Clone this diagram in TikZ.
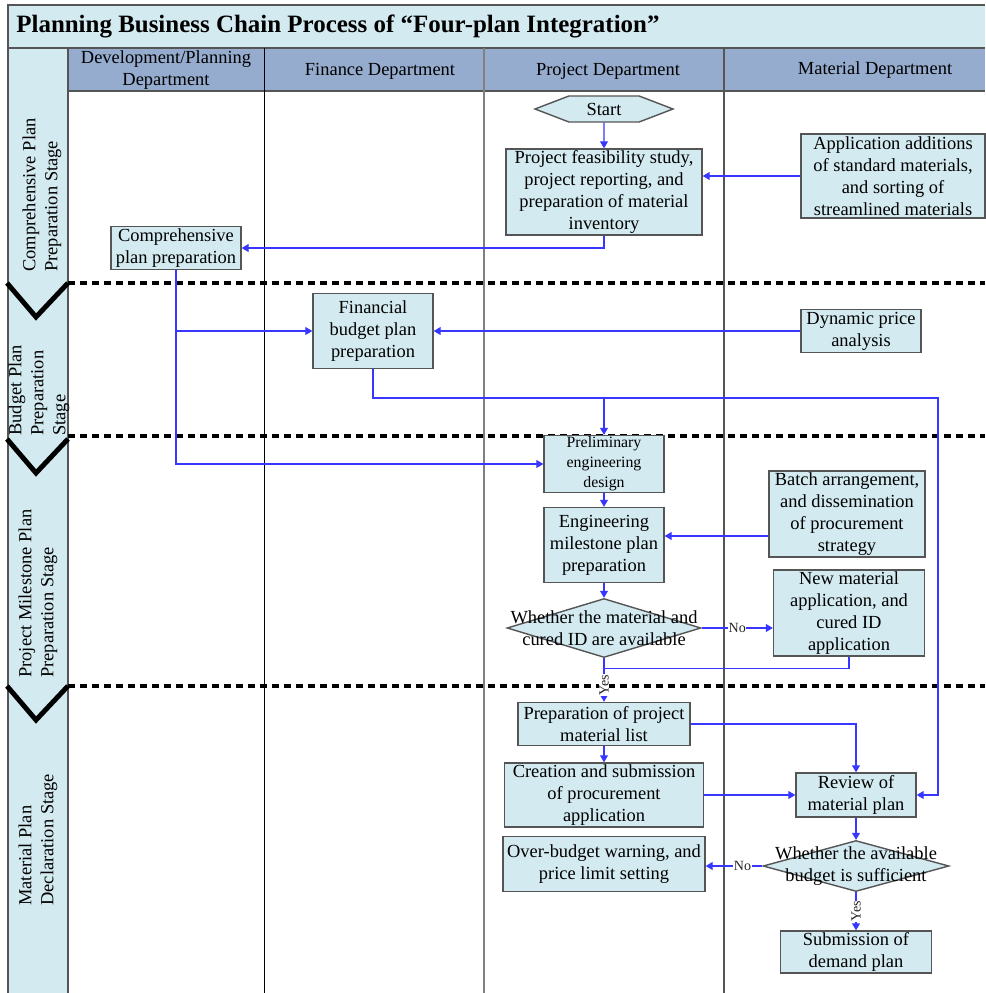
\documentclass[tikz,border=0pt]{standalone}
\usepackage{fontspec}
\setmainfont{Liberation Serif}
\usepackage{tikz}
\usetikzlibrary{positioning,arrows.meta,shapes.geometric,shapes.symbols}
\definecolor{paleblue}{RGB}{211,234,240}
\definecolor{headblue}{RGB}{149,172,206}
\definecolor{edgegray}{RGB}{85,85,85}
\definecolor{flowblue}{RGB}{55,55,255}
\newcommand{\txt}{\fontsize{10.5}{12.5}\selectfont}
\newcommand{\smalltxt}{\fontsize{9}{11.3}\selectfont}
\newcommand{\tagtxt}{\fontsize{8}{9}\selectfont}

\begin{document}
\begin{tikzpicture}[x=0.02cm, y=-0.02cm,
  box/.style={draw=edgegray, line width=0.8pt, fill=paleblue, font=\txt, align=center, inner sep=0.5pt},
  decide/.style={diamond, draw=edgegray, line width=0.8pt, fill=paleblue, inner sep=0pt},
  flow/.style={-{Triangle[length=1.4mm, width=1.6mm]}, flowblue, line width=0.6pt},
  link/.style={flowblue, line width=0.6pt},
  tag/.style={font=\tagtxt, text=black!85, fill=white, inner sep=0.3pt},
  stage/.style={rotate=90, anchor=west, align=left, font=\txt, inner sep=0pt},
  hd/.style={font=\txt, align=center, inner sep=0pt},
  sep/.style={dash pattern=on 0.14cm off 0.1cm, line width=2.2pt},
  chev/.style={line width=2.8pt},
  lane/.style={edgegray, line width=0.6pt},
]
\useasboundingbox (0,0) rectangle (985,993);

% title, stage column and department header
\fill[paleblue] (8,5) rectangle (985,48);
\fill[paleblue] (8,48) rectangle (68,993);
\fill[headblue] (68,48) rectangle (985,91);
\draw[lane] (985,5) -- (8,5) -- (8,993);
\draw[lane] (8,48) -- (985,48);
\draw[lane] (68,91) -- (985,91);
\draw[lane] (68,48) -- (68,993);
\draw[black, line width=0.5pt] (264,48) -- (264,993);
\draw[lane, gray] (484,48) -- (484,993);
\draw[lane] (724,48) -- (724,993);
\node[font=\fontsize{14.2}{16}\selectfont\bfseries, anchor=west, inner sep=0pt] (title) at (16,26)
  {Planning Business Chain Process of “Four-plan Integration”};
\node[hd] (hdev) at (166,70) {Development/Planning\\Department};
\node[hd] (hfin) at (380,71) {Finance Department};
\node[hd] (hproj) at (608,71) {Project Department};
\node[hd] (hmat) at (875,70) {Material Department};

% stage separators
\foreach \y in {283,436,686}
  \draw[sep] (68,\y) -- (985,\y);
\foreach \y/\d in {283/34,439/34,686/34}
  \draw[chev] (7,\y) -- (36,{\y+\d}) -- (68,\y);
\node[stage] (s1) at (42,272) {Comprehensive Plan\\Preparation Stage};
\node[stage] (s2) at (39,436) {Budget Plan\\Preparation\\Stage};
\node[stage] (s3) at (38,678) {Project Milestone Plan\\Preparation Stage};
\node[stage] (s4) at (38,906) {Material Plan\\Declaration Stage};

% comprehensive plan stage
\node[box, signal, signal to=west and east, signal pointer angle=42,
      minimum width=2.76cm, minimum height=0.52cm] (start) at (604,109) {Start};
\node[box, minimum width=3.92cm, minimum height=1.72cm] (feas) at (604,192)
  {Project feasibility study,\\project reporting, and\\preparation of material\\inventory};
\node[box, minimum width=3.68cm, minimum height=1.68cm] (std) at (893,176)
  {Application additions\\of standard materials,\\and sorting of\\streamlined materials};
\node[box, minimum width=2.6cm, minimum height=0.86cm] (comp) at (176,248)
  {Comprehensive\\plan preparation};

% budget plan stage
\node[box, minimum width=2.4cm, minimum height=1.5cm] (fin) at (373,331)
  {Financial\\budget plan\\preparation};
\node[box, minimum width=2.4cm, minimum height=0.86cm] (price) at (861,331)
  {Dynamic price\\analysis};

% project milestone plan stage
\node[box, font=\smalltxt, minimum width=2.4cm, minimum height=1.14cm] (prelim) at (604,464)
  {Preliminary\\engineering\\design};
\node[box, minimum width=2.4cm, minimum height=1.5cm] (mile) at (604,545)
  {Engineering\\milestone plan\\preparation};
\node[box, minimum width=3.12cm, minimum height=1.72cm] (batch) at (847,514)
  {Batch arrangement,\\and dissemination\\of procurement\\strategy};
\node[decide, minimum width=3.88cm, minimum height=1.18cm,
      label={[font=\txt, align=center]center:{Whether the material and\\cured ID are available}}] (avail) at (604,628) {};
\node[box, minimum width=3.02cm, minimum height=1.72cm] (newmat) at (849,613)
  {New material\\application, and\\cured ID\\application};

% material plan declaration stage
\node[box, minimum width=3.44cm, minimum height=0.86cm] (preplist) at (604,724)
  {Preparation of project\\material list};
\node[box, minimum width=3.98cm, minimum height=1.28cm] (create) at (604,795)
  {Creation and submission\\of procurement\\application};
\node[box, minimum width=4.04cm, minimum height=1.1cm] (over) at (604,864)
  {Over-budget warning, and\\price limit setting};
\node[box, minimum width=2.4cm, minimum height=0.88cm] (review) at (856,795)
  {Review of\\material plan};
\node[decide, minimum width=3.72cm, minimum height=1.02cm,
      label={[font=\txt, align=center]center:{Whether the available\\budget is sufficient}}] (budget) at (856,866) {};
\node[box, minimum width=3.02cm, minimum height=0.84cm] (sub) at (856,952)
  {Submission of\\demand plan};

% connectors
\draw[flow] (start) -- (feas);
\draw[flow] (std.west) -- (std.west -| feas.east);
\draw[flow] (feas.south) |- (comp.east);
\draw[flow] (comp.south) |- (prelim.west);
\draw[flow] (comp.south |- fin.west) -- (fin.west);
\draw[flow] (price.west) -- (fin.east);
\coordinate (bend) at (938,398);
\draw[flow] (fin.south) |- (bend) |- (review.east);
\draw[flow] (prelim.north |- bend) -- (prelim.north);
\draw[flow] (prelim) -- (mile);
\draw[flow] ([yshift=-4.4mm]batch.west) coordinate (b1) -- (b1 -| mile.east);
\draw[flow] (mile.south) -- (avail.north);
\draw[flow] (avail.east) -- node[tag] {No} (avail.east -| newmat.west);
\draw[link] (newmat.south) |- ([yshift=-2mm]avail.south);
\draw[flow] (avail.south) -- node[tag, rotate=90, pos=.62] {Yes} (preplist.north);
\draw[flow] (preplist) -- (create);
\draw[flow] (preplist.east) -| (review.north);
\draw[flow] (create.east) -- (create.east -| review.west);
\draw[flow] (review) -- (budget);
\draw[flow] (budget.west) -- node[tag, pos=.35] {No} (budget.west -| over.east);
\draw[flow] (budget.south) -- node[tag, rotate=90] {Yes} (sub.north);
\end{tikzpicture}
\end{document}
